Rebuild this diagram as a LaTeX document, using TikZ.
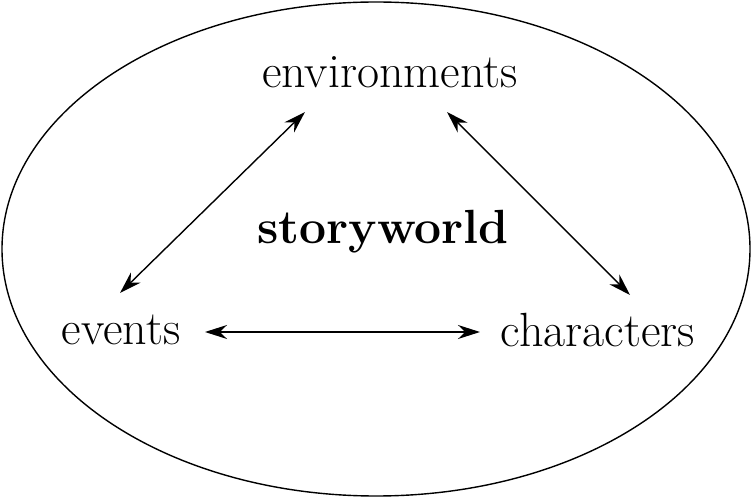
\documentclass[tikz,border=0pt]{standalone}
\usetikzlibrary{arrows.meta}
\tikzset{
    every node/.style={inner sep=0pt, font=\fontsize{48}{58}\selectfont}, % big labels
    link/.style={{Stealth[length=22pt,width=14pt]}-{Stealth[length=22pt,width=14pt]}, line width=1.4pt},
    }
\begin{document}
\begin{tikzpicture}[x=1pt,y=1pt]
\useasboundingbox (0,0) rectangle (752,498);
\draw[line width=1.4pt] (376,249) ellipse (374 and 247);
\node (env) at (390,426) {environments};
\node (ev) at (121,168) {events};
\node (ch) at (598,168) {characters};
\node[font=\fontsize{48}{58}\selectfont\bfseries] (sw) at (383,266) {storyworld};

\draw[link] ([shift={(-85,-40)}]env.center) -- ([shift={(-1,37)}]ev.center);
\draw[link] ([shift={(57,-40)}]env.center) -- ([shift={(32,35)}]ch.center);
\draw[link] ([shift={(84,-2)}]ev.center) -- ([shift={(-118,-2)}]ch.center);
\end{tikzpicture}
\end{document}
